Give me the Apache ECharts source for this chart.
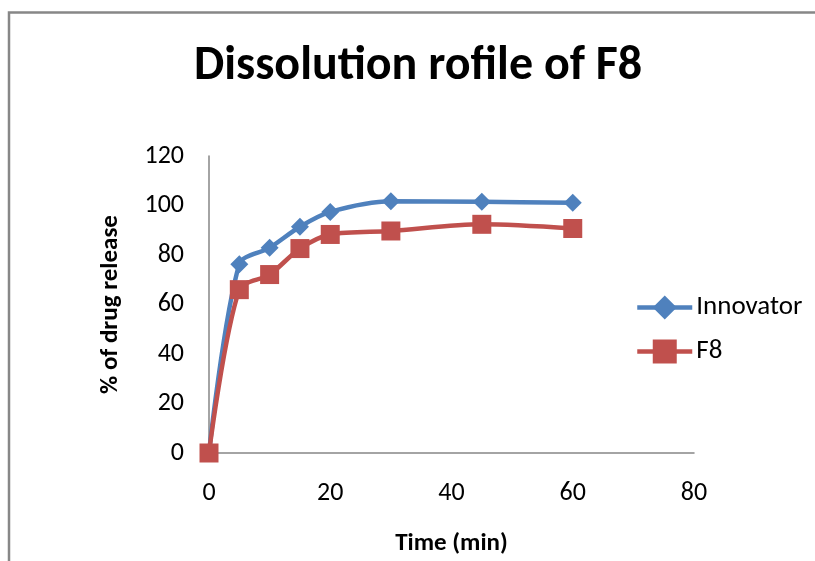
<!DOCTYPE html>
<html>
<head>
<meta charset="utf-8">
<script src="https://cdn.jsdelivr.net/npm/echarts@6/dist/echarts.min.js"></script>
<style>
  html, body { margin: 0; padding: 0; background: #fff; }
  #chart { width: 815px; height: 561px; }
</style>
</head>
<body>
<div id="chart"></div>
<script>
// Sampling times (min)
const times = [0, 5, 10, 15, 20, 30, 45, 60];
// Cumulative % drug released
const innovator = [0, 76.3, 82.9, 91.4, 97.4, 101.7, 101.5, 101.1];
const f8 = [0, 66.0, 72.1, 82.6, 88.3, 89.7, 92.4, 90.7];
const seriesNames = ['Innovator', 'F8'];
const xTicks = [0, 20, 40, 60, 80];
const yTicks = [0, 20, 40, 60, 80, 100, 120];

const pairs = (ys) => times.map((t, i) => [t, ys[i]]);
const labelFont = 'Carlito, Calibri, "Open Sans", "Liberation Sans", sans-serif';

const chart = echarts.init(document.getElementById('chart'), null, { renderer: 'canvas' });
chart.setOption({
  backgroundColor: '#fff',
  animation: false,
  title: {
    text: 'Dissolution rofile of F8',
    left: 189,
    top: 38,
    textStyle: { fontFamily: labelFont, fontWeight: 'bold', fontSize: 48, color: '#000' }
  },
  graphic: [
    { type: 'polyline', shape: { points: [[9, 561], [9, 12.5], [815, 12.5]] },
      style: { stroke: '#878787', lineWidth: 2.5, fill: null } }
  ],
  grid: { left: 209, top: 156, right: 121, bottom: 108, containLabel: false, outerBoundsMode: 'none' },
  legend: {
    orient: 'vertical',
    left: 630,
    top: 289,
    itemGap: 17,
    itemWidth: 55,
    itemHeight: 30,
    lineStyle: { width: 4.5 },
    textStyle: { fontFamily: labelFont, fontSize: 27, color: '#000', padding: [0, 0, 0, -1] },
    data: seriesNames
  },
  xAxis: {
    type: 'value',
    min: 0, max: 80, interval: 20,
    name: 'Time (min)',
    nameLocation: 'middle',
    nameGap: 78,
    nameTextStyle: { fontFamily: labelFont, fontWeight: 'bold', fontSize: 25, color: '#000' },
    axisLine: { show: true, lineStyle: { color: '#868686', width: 1.5 } },
    axisTick: { show: false },
    splitLine: { show: false },
    axisLabel: { margin: 27, fontFamily: labelFont, fontSize: 26, color: '#000',
      formatter: (v) => xTicks.includes(v) ? String(v) : '' }
  },
  yAxis: {
    type: 'value',
    min: 0, max: 120, interval: 20,
    name: '% of drug release',
    nameLocation: 'middle',
    nameGap: 86,
    nameRotate: 90,
    nameTextStyle: { fontFamily: labelFont, fontWeight: 'bold', fontSize: 25, color: '#000' },
    axisLine: { show: true, lineStyle: { color: '#868686', width: 1.5 } },
    axisTick: { show: false },
    splitLine: { show: false },
    axisLabel: { margin: 25, fontFamily: labelFont, fontSize: 26, color: '#000',
      formatter: (v) => yTicks.includes(v) ? String(v) : '' }
  },
  series: [
    {
      name: seriesNames[0], type: 'line', data: pairs(innovator),
      smooth: 0.3, symbol: 'diamond', symbolSize: 18,
      lineStyle: { color: '#4F81BD', width: 4.5 },
      itemStyle: { color: '#4F81BD' }, z: 2
    },
    {
      name: seriesNames[1], type: 'line', data: pairs(f8),
      smooth: 0.3, symbol: 'rect', symbolSize: 19,
      lineStyle: { color: '#C0504D', width: 4.5 },
      itemStyle: { color: '#C0504D' }, z: 3
    }
  ]
});
</script>
</body>
</html>
